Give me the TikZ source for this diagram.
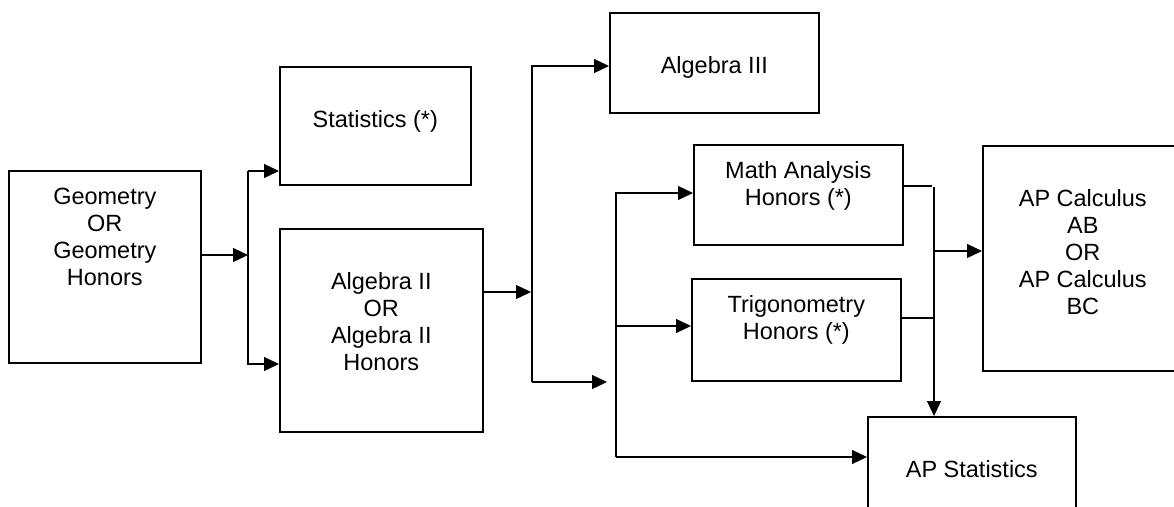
\documentclass[tikz,border=0pt]{standalone}
\usepackage{fontspec}
\setmainfont{Liberation Sans}
\usetikzlibrary{arrows.meta, calc}
\tikzset{
	every node/.style={
		font=\fontsize{16.7}{19.2}\selectfont
	},
	course/.style={
		shape=rectangle,
		draw,
		line width=1.1pt,
		anchor=north west,
		inner sep=0pt,
	},
	coursetext/.style={
		anchor=north,
		inner sep=0pt,
		align=center,
		yshift=-0.44cm
	},
	blanktext/.style={
		coursetext,
		yshift=-0.67cm
	},
	myarrow/.style={-{Triangle[length=0.375cm,width=0.35cm]}, line width=0.85pt},
	stub/.style={line width=2.1pt},
}

\begin{document}
\begin{tikzpicture}[x=0.025cm, y=-0.025cm]
	
	\useasboundingbox (0,0) rectangle (1174,506);
	
	\node[course, minimum width=4.8cm, minimum height=4.8cm,
		label={[coursetext]north:{Geometry\\OR\\Geometry\\Honors}}] (geo) at (8,170) {};
	\node[course, minimum width=4.775cm, minimum height=2.95cm,
		label={[blanktext]north:{Statistics (*)}}] (stat) at (279,66) {};
	\node[course, minimum width=5.075cm, minimum height=5.075cm,
		label={[blanktext]north:{Algebra II\\OR\\Algebra II\\Honors}}] (alg2) at (279,228) {};
	\node[course, minimum width=5.225cm, minimum height=2.5cm,
		label={[blanktext]north:{Algebra III}}] (alg3) at (609,12) {};
	\node[course, minimum width=5.225cm, minimum height=2.5cm,
		label={[coursetext]north:{Math Analysis\\Honors (*)}}] (mathan) at (693,144) {};
	\node[course, minimum width=5.225cm, minimum height=2.55cm,
		label={[coursetext]north:{Trigonometry\\Honors (*)}}] (trig) at (691,278) {};
	\node[course, minimum width=5cm, minimum height=5.625cm,
		label={[blanktext]north:{AP Calculus\\AB\\OR\\AP Calculus\\BC}}] (apcalc) at (982,145) {};
	\node[course, minimum width=5.2cm, minimum height=2.75cm,
		label={[blanktext]north:{AP Statistics}}] (apstat) at (867,416) {};
	
	% branch points
	\coordinate (j1) at (248,255);
	\coordinate (b1) at (248,171);
	\coordinate (b2) at (248,364);
	\coordinate (j2) at (531,292);
	\coordinate (c1) at (532,66);
	\coordinate (c2) at (532,382);
	\coordinate (c3) at (607,382);
	\coordinate (d1) at (616,193);
	\coordinate (d2) at (616,326);
	\coordinate (d3) at (616,457);
	\coordinate (s1) at (932,186);
	\coordinate (s2) at (933,318);
	\coordinate (e1) at (934,187);
	\coordinate (e2) at (934,251);
	
	\draw[myarrow] (j1 -| geo.east) -- (j1);
	\draw[myarrow] (b1) -- (b1 -| stat.west);
	\draw[myarrow] (b1) |- (b2 -| alg2.west);
	
	\draw[myarrow] (j2 -| alg2.east) -- (j2);
	\draw[myarrow] (c2) |- (c1 -| alg3.west);
	\draw[myarrow] (c2) -- (c3);
	
	\draw[myarrow] (d3) |- (d1 -| mathan.west);
	\draw[myarrow] (d2) -- (d2 -| trig.west);
	\draw[myarrow] (d3) -- (d3 -| apstat.west);
	
	\draw[stub] (s1 -| mathan.east) -- (s1);
	\draw[stub] (s2 -| trig.east) -- (s2);
	\draw[myarrow] (e1) -- (e1 |- apstat.north);
	\draw[myarrow] (e2) -- (e2 -| apcalc.west);
	
\end{tikzpicture}
\end{document}
